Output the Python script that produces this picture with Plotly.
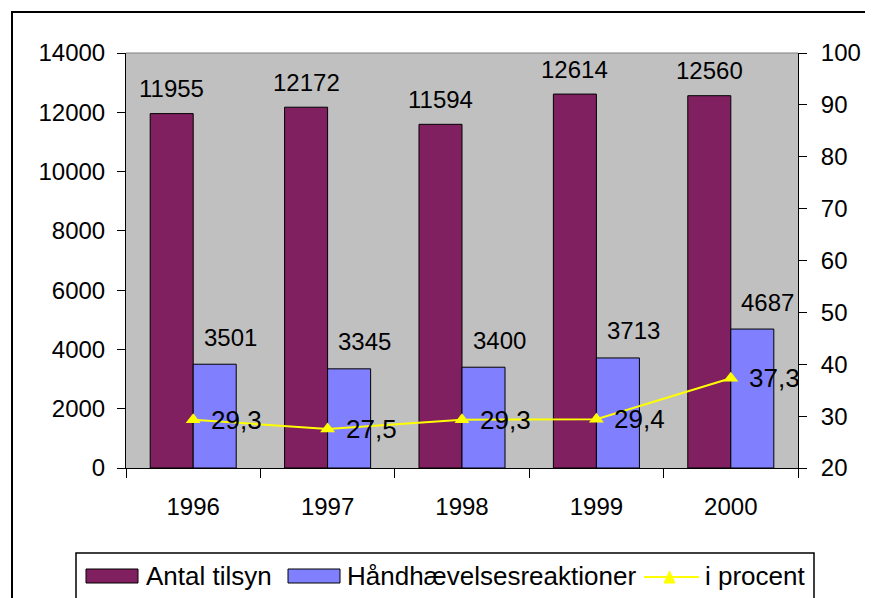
import plotly.graph_objects as go

years = ["1996", "1997", "1998", "1999", "2000"]
antal_tilsyn = [11955, 12172, 11594, 12614, 12560]
haandhaevelse = [3501, 3345, 3400, 3713, 4687]
i_procent = [29.3, 27.5, 29.3, 29.4, 37.3]
i_procent_text = ["29,3", "27,5", "29,3", "29,4", "37,3"]
left_ticks = [0, 2000, 4000, 6000, 8000, 10000, 12000, 14000]
left_tick_text = ["0", "2000", "4000", "6000", "8000", "10000", "12000", "14000"]
right_ticks = [20, 30, 40, 50, 60, 70, 80, 90, 100]
legend_names = ["Antal tilsyn", "Håndhævelsesreaktioner", "i procent"]

OFF = 8  # page body margin
W, H = 873 - OFF, 598 - OFF
L, T = 126 - OFF, 53 - OFF
R = W - (798 - OFF)
B = H - (468 - OFF)
PW, PH = W - L - R, H - T - B
FONT = "Liberation Sans, Arial, sans-serif"
MAROON = "#802060"
BLUE = "#8080FF"
YELLOW = "#FFFF00"


def px(xp):
    # screen pixel -> paper x
    return (xp - OFF - L) / PW


def py(yp):
    # screen pixel -> paper y
    return (H - B - (yp - OFF)) / PH


fig = go.Figure()
fig.add_trace(go.Bar(x=years, y=antal_tilsyn, name=legend_names[0],
                     marker=dict(color=MAROON, line=dict(color="black", width=1)),
                     showlegend=False))
fig.add_trace(go.Bar(x=years, y=haandhaevelse, name=legend_names[1],
                     marker=dict(color=BLUE, line=dict(color="black", width=1)),
                     showlegend=False))
fig.add_trace(go.Scatter(x=years, y=i_procent, yaxis="y2", name=legend_names[2],
                         mode="lines+markers",
                         line=dict(color=YELLOW, width=2),
                         marker=dict(symbol="triangle-up", size=13, color=YELLOW),
                         cliponaxis=False, showlegend=False))

annotations = []
for i, v in enumerate(antal_tilsyn):
    annotations.append(dict(x=i, y=v, xref="x", yref="y", text=str(v), showarrow=False,
                            xshift=-21.5, yshift=25, yanchor="middle",
                            font=dict(family=FONT, size=24, color="black")))
for i, v in enumerate(haandhaevelse):
    annotations.append(dict(x=i, y=v, xref="x", yref="y", text=str(v), showarrow=False,
                            xshift=37, yshift=27, yanchor="middle",
                            font=dict(family=FONT, size=24, color="black")))
for i, (v, t) in enumerate(zip(i_procent, i_procent_text)):
    annotations.append(dict(x=i, y=v, xref="x", yref="y2", text=t, showarrow=False,
                            xanchor="left", yanchor="middle", xshift=16, yshift=0,
                            font=dict(family=FONT, size=26, color="black")))

# custom legend
leg_font = dict(family=FONT, size=26, color="black")
annotations.append(dict(x=px(144), y=py(576), xref="paper", yref="paper", text=legend_names[0],
                        showarrow=False, xanchor="left", yanchor="middle", font=leg_font))
annotations.append(dict(x=px(345), y=py(576), xref="paper", yref="paper", text=legend_names[1],
                        showarrow=False, xanchor="left", yanchor="middle", font=leg_font))
annotations.append(dict(x=px(703), y=py(576), xref="paper", yref="paper", text=legend_names[2],
                        showarrow=False, xanchor="left", yanchor="middle", font=leg_font))

shapes = [
    dict(type="line", xref="paper", yref="paper", x0=0, x1=1, y0=1, y1=1,
         line=dict(color="#808080", width=1)),
    dict(type="rect", xref="paper", yref="paper", x0=px(12), x1=px(900), y0=py(640), y1=py(12),
         line=dict(color="black", width=2)),
    dict(type="rect", xref="paper", yref="paper", x0=px(76), x1=px(814), y0=py(640), y1=py(553),
         line=dict(color="black", width=1.5)),
    dict(type="rect", xref="paper", yref="paper", x0=px(86), x1=px(138), y0=py(583), y1=py(569),
         fillcolor=MAROON, line=dict(color="black", width=1)),
    dict(type="rect", xref="paper", yref="paper", x0=px(288), x1=px(340), y0=py(583), y1=py(569),
         fillcolor=BLUE, line=dict(color="black", width=1)),
    dict(type="line", xref="paper", yref="paper", x0=px(644), x1=px(699), y0=py(577), y1=py(577),
         line=dict(color=YELLOW, width=2)),
    dict(type="path", xref="paper", yref="paper",
         path=f"M {px(664)},{py(583)} L {px(675)},{py(583)} L {px(669.5)},{py(571)} Z",
         fillcolor=YELLOW, line=dict(color=YELLOW, width=1)),
]

n = len(years)
tick_font = dict(family=FONT, size=24, color="black")
fig.update_layout(
    width=W, height=H,
    margin=dict(l=L, r=R, t=T, b=B, autoexpand=False),
    paper_bgcolor="white", plot_bgcolor="#C0C0C0",
    barmode="group", bargap=0.36, bargroupgap=0,
    font=dict(family=FONT, size=24, color="black"),
    showlegend=False,
    xaxis=dict(type="category", categoryarray=years, range=[-0.5, n - 0.5],
               tickson="boundaries", ticks="outside", ticklen=9, tickcolor="black",
               showline=True, linecolor="black", linewidth=1, showgrid=False,
               tickfont=tick_font, ticklabelstandoff=17, zeroline=False),
    xaxis2=dict(overlaying="x", anchor="y", range=[-0.5, n - 0.5], tickmode="array",
                tickvals=[i - 0.5 for i in range(n + 1)], ticks="inside", ticklen=8,
                tickcolor="black", showticklabels=False, showgrid=False, showline=False,
                zeroline=False),
    yaxis=dict(range=[0, 14000], tickmode="array", tickvals=left_ticks, ticktext=left_tick_text,
               ticks="outside", ticklen=8, tickcolor="black", showline=True, linecolor="black",
               linewidth=1, showgrid=False, zeroline=False, tickfont=tick_font,
               ticklabelstandoff=7),
    yaxis3=dict(overlaying="y", anchor="x", side="left", range=[0, 14000], tickmode="array",
                tickvals=left_ticks, ticks="inside", ticklen=7, tickcolor="black",
                showticklabels=False, showgrid=False, showline=False, zeroline=False),
    yaxis2=dict(overlaying="y", anchor="x", side="right", range=[20, 100], tickmode="array",
                tickvals=right_ticks, ticks="outside", ticklen=8, tickcolor="black",
                showline=True, linecolor="black", linewidth=1, showgrid=False,
                zeroline=False, tickfont=tick_font, ticklabelstandoff=9),
    yaxis4=dict(overlaying="y", anchor="x", side="right", range=[20, 100], tickmode="array",
                tickvals=right_ticks, ticks="inside", ticklen=7, tickcolor="black",
                showticklabels=False, showgrid=False, showline=False, zeroline=False),
    annotations=annotations,
    shapes=shapes,
)

fig.write_html("out.html")
